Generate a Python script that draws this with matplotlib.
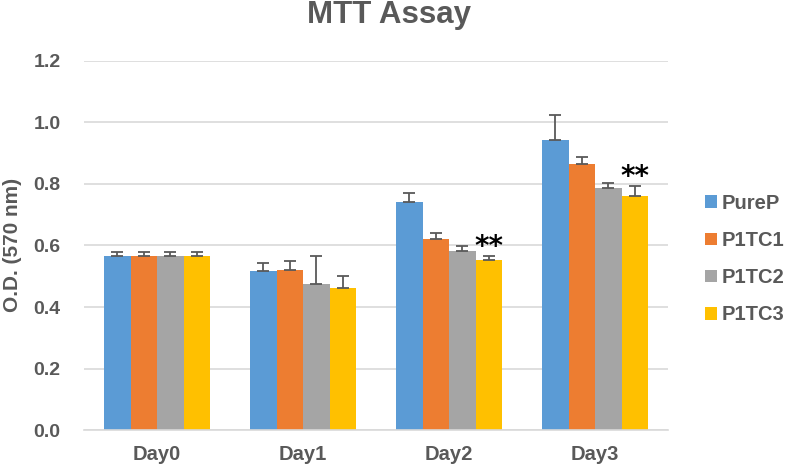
import matplotlib
matplotlib.use("Agg")
import matplotlib.pyplot as plt
import numpy as np

plt.rcParams['font.family'] = ['Liberation Sans', 'DejaVu Sans']

categories = ["Day0", "Day1", "Day2", "Day3"]
series = ["PureP", "P1TC1", "P1TC2", "P1TC3"]
values = {
    "PureP": [0.565, 0.517, 0.742, 0.944],
    "P1TC1": [0.565, 0.520, 0.621, 0.866],
    "P1TC2": [0.565, 0.475, 0.581, 0.787],
    "P1TC3": [0.565, 0.461, 0.552, 0.761],
}
errors = {
    "PureP": [0.015, 0.025, 0.027, 0.079],
    "P1TC1": [0.015, 0.030, 0.019, 0.020],
    "P1TC2": [0.015, 0.090, 0.018, 0.017],
    "P1TC3": [0.015, 0.040, 0.014, 0.032],
}
colors = ["#5B9BD5", "#ED7D31", "#A5A5A5", "#FFC000"]
sig_marks = ["", "", "**", "**"]

text_c = "#595959"
fig = plt.figure(figsize=(7.87, 4.68), dpi=100)
ax = fig.add_axes([0.107, 0.081, 0.742, 0.789])

x = np.arange(len(categories))
w = 0.1815
for i, s in enumerate(series):
    pos = x + (i - 1.5) * w
    ax.bar(pos, values[s], width=w, color=colors[i], label=s, zorder=2)
    ax.errorbar(pos, values[s], yerr=[np.zeros(len(categories)), errors[s]],
                fmt='none', ecolor=text_c, elinewidth=1.3, capsize=4, capthick=1.3, zorder=3)
    if i == 3:
        for j, m in enumerate(sig_marks):
            if m:
                ax.text(pos[j], values[s][j] + errors[s][j] + 0.002, m, ha='center', va='baseline',
                        fontsize=20, fontweight='bold', color='black', family='DejaVu Sans')

ax.set_ylim(0, 1.2)
ax.set_xlim(-0.5, 3.5)
ticks = np.arange(0, 1.21, 0.2)
ax.set_yticks(ticks)
ax.set_yticklabels([f"{v:.1f}" for v in ticks])
ax.set_xticks(x)
ax.set_xticklabels(categories)
ax.yaxis.grid(True, color="#D9D9D9", linewidth=1.2, zorder=0)
ax.set_axisbelow(True)
for sp in ["top", "right", "left"]:
    ax.spines[sp].set_visible(False)
ax.spines["bottom"].set_color("#D9D9D9")
ax.spines["bottom"].set_linewidth(1.2)
ax.tick_params(axis='both', length=0, labelsize=14.5, labelcolor=text_c)
ax.tick_params(axis='y', pad=17, labelsize=14)
ax.tick_params(axis='x', pad=11)
for lab in ax.get_xticklabels() + ax.get_yticklabels():
    lab.set_fontweight('bold')
fig.text(13 / 787, 1 - 245 / 468, "O.D. (570 nm)", rotation=90, ha='center', va='center',
         fontsize=15, fontweight='bold', color=text_c)
fig.text(0.494, 0.951, "MTT Assay", ha='center', va='baseline', fontsize=22.5,
         fontweight='bold', color=text_c)

leg = ax.legend(loc='center left', bbox_to_anchor=(1.063, 0.463), frameon=False,
                prop={'weight': 'bold', 'size': 14.5}, handlelength=0.6, handleheight=0.6,
                handletextpad=0.25, labelspacing=0.9, borderpad=0, borderaxespad=0)
for t in leg.get_texts():
    t.set_color(text_c)

fig.savefig("out.png", dpi=100)
